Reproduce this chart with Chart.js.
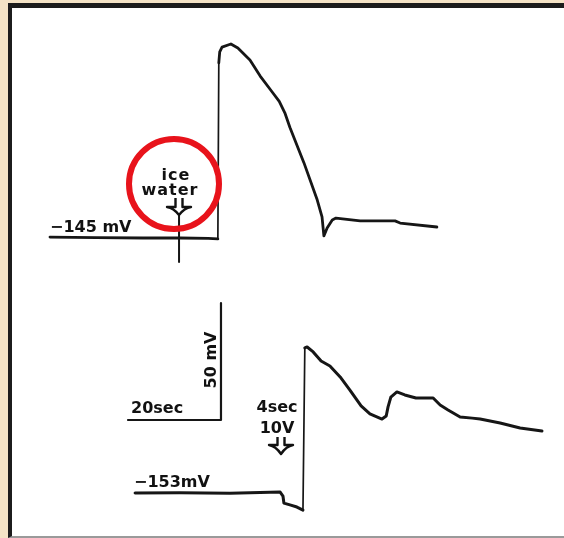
<!DOCTYPE html>
<html>
<head>
<meta charset="utf-8">
<title>Action potentials</title>
<script src="https://cdn.jsdelivr.net/npm/chart.js@4.4.1/dist/chart.umd.min.js"></script>
<style>
  html, body { margin: 0; padding: 0; }
  body { width: 564px; height: 538px; background: #f4e3c6; position: relative; overflow: hidden; }
  #frame {
    position: absolute; left: 8px; top: 3px; right: 0; bottom: 0;
    background: #fff; box-sizing: border-box;
    border-left: 4px solid #1c1c1c; border-top: 5px solid #1c1c1c; border-bottom: 2px solid #9a9a9a;
  }
  #trace { position: absolute; left: 0; top: 0; }
</style>
</head>
<body>
<div id="frame"></div>
<canvas id="trace" width="564" height="538"></canvas>
<script>
// time in seconds, membrane potential in mV

// upper recording: ice water stimulus, resting -145 mV
const topTime = [0, 10, 20, 28, 34, 36.1, 36.3, 36.5, 37.0, 38.9, 40.4, 43.0, 45.2, 47.7, 49.3, 50.5, 51.6, 54.6, 57.4, 58.5, 58.9, 59.6, 60.7, 61.5, 66.7, 74.2, 75.3, 83.2];
const topVolt = [-144.6, -144.8, -145.0, -145.0, -145.2, -145.4, -70.2, -65.5, -63.4, -62.1, -63.8, -68.9, -75.8, -82.4, -86.6, -91.5, -97.8, -112.8, -128.3, -136.0, -144.1, -140.7, -137.3, -136.5, -137.7, -137.7, -138.6, -140.3];

// stimulus mark under the arrow
const markTime = [27.75, 27.75];
const markVolt = [-135.5, -155.3];

// lower recording: 4 sec 10 V stimulus, resting -153 mV
const botTime = [18.3, 27.9, 38.7, 49.5, 50.1, 50.3, 51.6, 53.1, 54.4, 54.8, 55.3, 56.6, 58.3, 60.2, 62.4, 64.5, 66.9, 68.8, 71.4, 72.3, 72.7, 73.3, 74.6, 76.3, 78.7, 82.4, 83.9, 85.6, 88.2, 90.8, 92.5, 96.8, 101.1, 105.8];
const botVolt = [-153.0, -152.9, -153.1, -152.6, -154.3, -157.3, -158.1, -159.0, -160.3, -91.0, -90.6, -92.7, -96.6, -98.7, -103.4, -109.0, -115.8, -119.2, -121.4, -120.1, -116.2, -112.0, -109.8, -111.1, -112.4, -112.4, -115.4, -117.5, -120.5, -121.0, -121.4, -123.1, -125.2, -126.5];

// calibration bar: 20 sec, 50 mV
const barTime = [16.77, 36.77, 36.77];
const barVolt = [-121.8, -121.8, -71.8];

function pts(xs, ys) {
    return xs.map((x, i) => ({ x: x, y: ys[i] }));
}

function hollowArrow(ctx, cx, top, mid, tip, half) {
    ctx.beginPath();
    ctx.moveTo(cx - 3.5, top);
    ctx.lineTo(cx - 3.5, mid);
    ctx.lineTo(cx - half, mid);
    ctx.quadraticCurveTo(cx - half * 0.45, mid + 1, cx, tip);
    ctx.quadraticCurveTo(cx + half * 0.45, mid + 1, cx + half, mid);
    ctx.lineTo(cx + 3.5, mid);
    ctx.lineTo(cx + 3.5, top);
    ctx.stroke();
}

// labels, arrows and the red ring drawn over the traces
const notes = {
    id: 'notes',
    afterDatasetsDraw(chart) {
        const ctx = chart.ctx;
        ctx.save();
        ctx.fillStyle = '#111';
        ctx.strokeStyle = '#111';
        ctx.font = 'bold 16px "DejaVu Sans"';
        ctx.textBaseline = 'alphabetic';

        ctx.textAlign = 'left';
        ctx.fillText('\u2212145 mV', 50, 232);
        ctx.fillText('20sec', 131, 413);
        ctx.fillText('\u2212153mV', 134, 487);

        ctx.textAlign = 'center';
        ctx.letterSpacing = '1px';
        ctx.fillText('ice', 176, 180);
        ctx.fillText('water', 170, 195);
        ctx.letterSpacing = '0px';
        ctx.fillText('4sec', 277, 412);
        ctx.fillText('10V', 277, 433);

        ctx.save();
        ctx.translate(216, 360);
        ctx.rotate(-Math.PI / 2);
        ctx.fillText('50 mV', 0, 0);
        ctx.restore();

        ctx.lineWidth = 2.4;
        ctx.lineJoin = 'round';
        hollowArrow(ctx, 179, 198, 207, 215, 12);
        hollowArrow(ctx, 281, 437, 445, 454, 12);

        ctx.strokeStyle = '#e8131b';
        ctx.lineWidth = 6;
        ctx.beginPath();
        ctx.arc(174, 184, 45, 0, Math.PI * 2);
        ctx.stroke();
        ctx.restore();
    }
};

// the fast upstrokes are drawn thinner, as on the pen recorder
const thinUpstroke = {
    borderWidth: ctx => (Math.abs(ctx.p1.parsed.x - ctx.p0.parsed.x) < 0.6 && Math.abs(ctx.p1.parsed.y - ctx.p0.parsed.y) > 20) ? 1.7 : undefined
};

const lineStyle = {
    showLine: true,
    borderColor: '#161616',
    borderJoinStyle: 'round',
    borderCapStyle: 'round',
    pointRadius: 0,
    clip: false
};

new Chart(document.getElementById('trace'), {
    type: 'scatter',
    data: {
        datasets: [
            Object.assign({ data: pts(topTime, topVolt), yAxisID: 'yTop', borderWidth: 2.8, segment: thinUpstroke }, lineStyle),
            Object.assign({ data: pts(markTime, markVolt), yAxisID: 'yTop', borderWidth: 2 }, lineStyle),
            Object.assign({ data: pts(botTime, botVolt), yAxisID: 'yBot', borderWidth: 3, segment: thinUpstroke }, lineStyle),
            Object.assign({ data: pts(barTime, barVolt), yAxisID: 'yBot', borderWidth: 2.2 }, lineStyle)
        ]
    },
    options: {
        responsive: false,
        animation: false,
        layout: { padding: 0 },
        plugins: { legend: { display: false }, tooltip: { enabled: false } },
        scales: {
            x: { type: 'linear', display: false, min: -10.753, max: 110.538 },
            yTop: { type: 'linear', display: false, min: -273.21, max: -43.29 },
            yBot: { type: 'linear', display: false, min: -172.23, max: 57.68 }
        }
    },
    plugins: [notes]
});
</script>
</body>
</html>
